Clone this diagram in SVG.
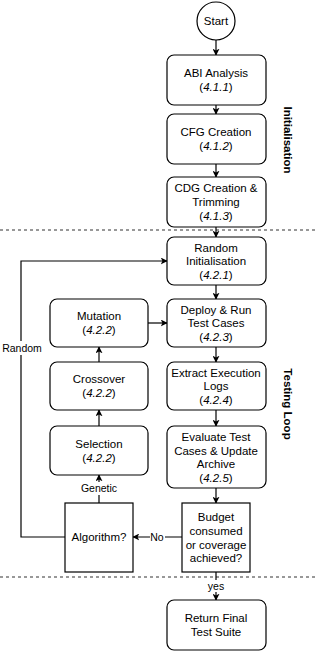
<svg xmlns="http://www.w3.org/2000/svg" width="316" height="653" viewBox="0 0 316 653">
<style>
.box{fill:#fff;stroke:#000;stroke-width:1.2}
.t{font-family:"Liberation Sans",Arial,sans-serif;font-size:11.5px;fill:#000;text-anchor:middle;dominant-baseline:central}
.i{font-style:italic}
.e{fill:none;stroke:#000;stroke-width:1.2}
.d{fill:none;stroke:#333;stroke-width:1.2;stroke-dasharray:3 3}
.lb{font-family:"Liberation Sans",Arial,sans-serif;font-size:11.5px;font-weight:bold;fill:#000;text-anchor:middle;dominant-baseline:central}
.sm{font-family:"Liberation Sans",Arial,sans-serif;font-size:10.5px;fill:#000;text-anchor:middle;dominant-baseline:central}
</style>
<defs>
<marker id="ah" viewBox="0 0 10 10" refX="9" refY="5" markerWidth="7" markerHeight="7" markerUnits="userSpaceOnUse" orient="auto">
<path d="M0,0 L10,5 L0,10 L2.5,5 Z" fill="#000"/>
</marker>
</defs>
<g id="sections">
<line class="d" x1="0" y1="230" x2="316" y2="230"/>
<line class="d" x1="0" y1="577" x2="316" y2="577"/>
<text class="lb" transform="translate(288,140) rotate(90)">Initialisation</text>
<text class="lb" transform="translate(288,404) rotate(90)">Testing Loop</text>
</g>
<g id="connectors">
<line class="e" x1="216" y1="40" x2="216" y2="55" marker-end="url(#ah)"/>
<line class="e" x1="216" y1="105" x2="216" y2="114" marker-end="url(#ah)"/>
<line class="e" x1="216" y1="164" x2="216" y2="177" marker-end="url(#ah)"/>
<line class="e" x1="216" y1="227" x2="216" y2="237" marker-end="url(#ah)"/>
<line class="e" x1="216" y1="285" x2="216" y2="299" marker-end="url(#ah)"/>
<line class="e" x1="216" y1="347" x2="216" y2="362" marker-end="url(#ah)"/>
<line class="e" x1="216" y1="410" x2="216" y2="426" marker-end="url(#ah)"/>
<line class="e" x1="216" y1="488" x2="216" y2="503" marker-end="url(#ah)"/>
<line class="e" x1="216" y1="572" x2="216" y2="600" marker-end="url(#ah)"/>
<line class="e" x1="148" y1="323" x2="167" y2="323" marker-end="url(#ah)"/>
<line class="e" x1="99" y1="362" x2="99" y2="347" marker-end="url(#ah)"/>
<line class="e" x1="99" y1="426" x2="99" y2="410" marker-end="url(#ah)"/>
<line class="e" x1="99" y1="503" x2="99" y2="475" marker-end="url(#ah)"/>
<line class="e" x1="182" y1="537" x2="133" y2="537" marker-end="url(#ah)"/>
<polyline class="e" points="65,537 21,537 21,261 167,261" marker-end="url(#ah)"/>
<rect x="0" y="341" width="44" height="14" fill="#fff"/>
<text class="sm" x="22" y="348">Random</text>
<rect x="78" y="482" width="42" height="13" fill="#fff"/>
<text class="sm" x="99" y="488">Genetic</text>
<rect x="150" y="531" width="15" height="12" fill="#fff"/>
<text class="sm" x="157" y="537">No</text>
<rect x="206" y="580" width="20" height="12" fill="#fff"/>
<text class="sm" x="216" y="586">yes</text>
</g>
<g id="start">
<circle class="box" cx="216" cy="21" r="19"/>
<text class="t" x="216" y="21">Start</text>
</g>
<g id="abi">
<rect class="box" x="167" y="55" width="99" height="50" rx="7"/>
<text class="t" x="216" y="73">ABI Analysis</text>
<text class="t" x="216" y="87">(<tspan class="i">4.1.1</tspan>)</text>
</g>
<g id="cfg">
<rect class="box" x="167" y="114" width="99" height="50" rx="7"/>
<text class="t" x="216" y="132">CFG Creation</text>
<text class="t" x="216" y="146">(<tspan class="i">4.1.2</tspan>)</text>
</g>
<g id="cdg">
<rect class="box" x="167" y="177" width="99" height="50" rx="7"/>
<text class="t" x="216" y="188">CDG Creation &amp;</text>
<text class="t" x="216" y="202">Trimming</text>
<text class="t" x="216" y="216">(<tspan class="i">4.1.3</tspan>)</text>
</g>
<g id="random-init">
<rect class="box" x="167" y="237" width="99" height="48" rx="7"/>
<text class="t" x="216" y="248">Random</text>
<text class="t" x="216" y="261">Initialisation</text>
<text class="t" x="216" y="275">(<tspan class="i">4.2.1</tspan>)</text>
</g>
<g id="deploy">
<rect class="box" x="167" y="299" width="99" height="48" rx="7"/>
<text class="t" x="216" y="310">Deploy &amp; Run</text>
<text class="t" x="216" y="323">Test Cases</text>
<text class="t" x="216" y="337">(<tspan class="i">4.2.3</tspan>)</text>
</g>
<g id="extract">
<rect class="box" x="167" y="362" width="99" height="48" rx="7"/>
<text class="t" x="216" y="373">Extract Execution</text>
<text class="t" x="216" y="386">Logs</text>
<text class="t" x="216" y="400">(<tspan class="i">4.2.4</tspan>)</text>
</g>
<g id="evaluate">
<rect class="box" x="167" y="426" width="99" height="62" rx="7"/>
<text class="t" x="216" y="437">Evaluate Test</text>
<text class="t" x="216" y="451">Cases &amp; Update</text>
<text class="t" x="216" y="464">Archive</text>
<text class="t" x="216" y="478">(<tspan class="i">4.2.5</tspan>)</text>
</g>
<g id="budget">
<rect class="box" x="182" y="503" width="68" height="69"/>
<text class="t" x="216" y="517">Budget</text>
<text class="t" x="216" y="531">consumed</text>
<text class="t" x="216" y="545">or coverage</text>
<text class="t" x="216" y="558">achieved?</text>
</g>
<g id="return">
<rect class="box" x="167" y="600" width="99" height="50" rx="7"/>
<text class="t" x="216" y="618">Return Final</text>
<text class="t" x="216" y="632">Test Suite</text>
</g>
<g id="mutation">
<rect class="box" x="50" y="299" width="98" height="48" rx="7"/>
<text class="t" x="99" y="316">Mutation</text>
<text class="t" x="99" y="330">(<tspan class="i">4.2.2</tspan>)</text>
</g>
<g id="crossover">
<rect class="box" x="50" y="362" width="98" height="48" rx="7"/>
<text class="t" x="99" y="379">Crossover</text>
<text class="t" x="99" y="393">(<tspan class="i">4.2.2</tspan>)</text>
</g>
<g id="selection">
<rect class="box" x="50" y="426" width="98" height="49" rx="7"/>
<text class="t" x="99" y="444">Selection</text>
<text class="t" x="99" y="458">(<tspan class="i">4.2.2</tspan>)</text>
</g>
<g id="algorithm">
<rect class="box" x="65" y="503" width="68" height="69"/>
<text class="t" x="99" y="537">Algorithm?</text>
</g>
</svg>
